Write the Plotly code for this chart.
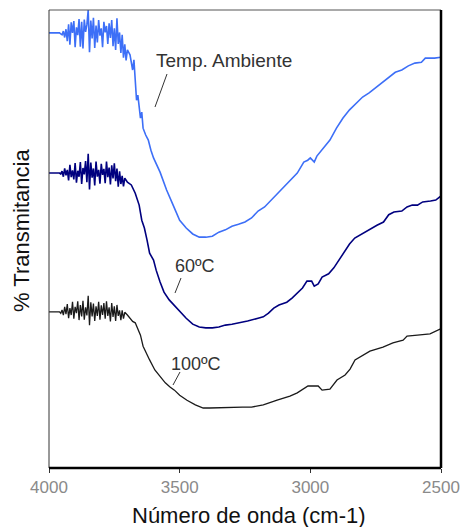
import plotly.graph_objects as go

# ---------------- data (wavenumber cm-1, % transmittance, arbitrary offsets) -------------
noise_wn = [3960, 3955, 3950, 3945, 3940, 3935, 3930, 3925, 3920, 3915, 3910, 3905,
            3900, 3895, 3890, 3885, 3880, 3875, 3870, 3865, 3860, 3855, 3850, 3845,
            3840, 3835, 3830, 3825, 3820, 3815, 3810, 3805, 3800, 3795, 3790, 3785,
            3780, 3775, 3770, 3765, 3760, 3755, 3750, 3745, 3740, 3735, 3730, 3725,
            3720, 3715]

amb_noise = [95.0, 94.8, 94.6, 95.4, 94.0, 95.8, 93.2, 96.9, 92.4, 97.3, 95.0, 97.6,
             91.9, 96.2, 94.5, 98.0, 92.0, 97.4, 91.6, 97.9, 95.2, 96.8, 100.0, 90.8,
             97.7, 93.8, 98.3, 91.7, 96.6, 92.9, 97.8, 94.4, 96.0, 91.9, 97.4, 95.1,
             96.5, 92.6, 97.1, 93.9, 97.8, 92.1, 96.0, 91.3, 98.2, 92.6, 95.1, 90.6,
             94.6, 89.6]
c60_noise = [64.4, 64.2, 64.8, 63.6, 65.4, 63.9, 65.1, 62.8, 66.2, 63.5, 65.0, 63.0,
             66.6, 62.3, 64.9, 63.6, 66.8, 62.0, 65.5, 64.1, 67.0, 62.4, 68.6, 60.8,
             66.7, 63.4, 65.4, 61.7, 66.9, 63.6, 65.1, 62.1, 66.4, 64.0, 65.3, 62.2,
             66.9, 63.5, 65.6, 61.9, 66.1, 63.2, 66.5, 62.6, 65.4, 61.4, 64.8, 62.0,
             63.8, 61.5]
c100_noise = [34.1, 33.8, 34.5, 33.4, 35.2, 33.6, 35.8, 32.7, 34.9, 33.4, 36.3, 32.6,
              35.2, 33.8, 36.4, 32.3, 35.6, 33.1, 36.5, 32.4, 35.1, 33.3, 37.6, 31.2,
              36.2, 33.1, 35.9, 32.1, 35.3, 33.2, 36.3, 32.4, 35.5, 33.4, 36.0, 32.6,
              36.4, 33.2, 35.1, 32.0, 36.0, 33.0, 35.3, 32.1, 35.6, 33.2, 34.4, 32.3,
              34.4, 32.6]

amb_wn = [3710, 3705, 3700, 3690, 3685, 3680, 3675, 3670, 3665, 3660, 3655, 3650,
          3645, 3640, 3630, 3620, 3610, 3600, 3575, 3550, 3525, 3500, 3475, 3450,
          3425, 3400, 3375, 3350, 3325, 3300, 3275, 3250, 3225, 3200, 3175, 3150,
          3125, 3100, 3075, 3050, 3025, 3010, 3000, 2985, 2975, 2950, 2925, 2900,
          2875, 2850, 2825, 2800, 2775, 2750, 2725, 2700, 2675, 2650, 2625, 2600,
          2575, 2560, 2525, 2500]
amb_t = [92.5, 89.0, 91.3, 90.2, 88.0, 86.9, 89.1, 83.6, 80.3, 81.4, 78.2, 76.4,
         77.7, 74.2, 72.7, 71.6, 69.4, 67.7, 64.6, 60.7, 57.4, 54.1, 52.4, 51.1,
         50.4, 50.4, 50.6, 51.5, 52.0, 52.8, 53.2, 53.7, 54.6, 56.1, 57.0, 58.5,
         60.0, 61.6, 62.9, 64.4, 66.8, 67.2, 67.7, 66.8, 68.1, 69.9, 71.6, 74.2,
         76.4, 78.2, 79.7, 81.0, 81.9, 83.0, 84.0, 85.1, 86.4, 86.9, 87.8, 88.4,
         88.6, 89.5, 89.5, 89.7]

c60_wn = [3710, 3700, 3685, 3670, 3655, 3645, 3635, 3625, 3615, 3600, 3590, 3575,
          3560, 3540, 3520, 3500, 3475, 3450, 3425, 3400, 3375, 3350, 3325, 3300,
          3270, 3240, 3200, 3180, 3160, 3140, 3120, 3090, 3070, 3050, 3030, 3013,
          2995, 2985, 2970, 2955, 2930, 2910, 2890, 2870, 2850, 2830, 2810, 2790,
          2770, 2745, 2720, 2700, 2680, 2650, 2630, 2610, 2590, 2570, 2540, 2520,
          2500]
c60_t = [63.3, 62.4, 61.8, 60.0, 57.4, 54.1, 52.4, 49.8, 46.9, 45.4, 43.2, 40.6,
         38.4, 36.7, 35.4, 34.1, 32.7, 31.4, 30.8, 30.6, 30.6, 30.8, 31.2, 31.4,
         31.7, 32.1, 32.7, 33.0, 33.8, 34.9, 35.6, 36.2, 37.1, 38.2, 39.3, 40.8,
         40.8, 39.7, 40.2, 41.7, 42.4, 43.7, 45.4, 47.2, 48.9, 50.2, 50.9, 51.5,
         52.2, 53.0, 53.7, 55.3, 55.9, 56.1, 57.0, 57.4, 57.4, 58.1, 58.3, 58.5,
         59.4]

c100_wn = [3710, 3700, 3680, 3670, 3650, 3640, 3630, 3615, 3595, 3575, 3555, 3537,
           3520, 3500, 3472, 3440, 3410, 3385, 3350, 3300, 3260, 3225, 3180, 3127,
           3078, 3050, 3009, 2970, 2955, 2925, 2898, 2867, 2848, 2829, 2798, 2772,
           2722, 2684, 2645, 2630, 2590, 2542, 2504, 2500]
c100_t = [34.0, 33.4, 32.0, 31.7, 29.0, 26.6, 25.3, 23.6, 21.4, 19.9, 18.6, 17.7,
          17.0, 15.9, 14.8, 13.8, 13.1, 13.1, 13.2, 13.3, 13.3, 13.3, 13.8, 14.8,
          15.7, 16.4, 17.9, 17.9, 17.0, 17.2, 19.2, 20.3, 21.6, 23.6, 24.7, 25.5,
          26.4, 27.3, 27.9, 28.8, 29.0, 29.3, 30.3, 30.3]

start_wn = [4000, 3985, 3970]
amb_start = [95.0, 95.0, 95.0]
c60_start = [64.4, 64.4, 64.4]
c100_start = [34.1, 34.1, 34.1]

x_ticks = [4000, 3500, 3000, 2500]

series = [
    ("Temp. Ambiente", amb_start + amb_noise + amb_t, start_wn + noise_wn + amb_wn, "#3d6ff7", 1.6),
    ("60ºC", c60_start + c60_noise + c60_t, start_wn + noise_wn + c60_wn, "#00007f", 1.6),
    ("100ºC", c100_start + c100_noise + c100_t, start_wn + noise_wn + c100_wn, "#1a1a1a", 1.3),
]

fig = go.Figure()
for name, yv, xv, col, w in series:
    fig.add_trace(go.Scatter(x=xv, y=yv, mode="lines", name=name,
                             line=dict(color=col, width=w), showlegend=False))

L, R, T, B = 49, 22, 10, 59
W, H = 463, 527
pw, ph = W - L - R, H - T - B


def px(x):
    return (x - L) / pw


def py(y):
    return (H - B - y) / ph


fig.update_layout(
    width=W, height=H,
    margin=dict(l=L, r=R, t=T, b=B, pad=0, autoexpand=False),
    paper_bgcolor="white", plot_bgcolor="white",
    font=dict(family="Liberation Sans, Arial, sans-serif", color="#222"),
    xaxis=dict(range=[4000, 2500], tickvals=x_ticks, ticktext=[str(v) for v in x_ticks],
               showgrid=False, zeroline=False, showline=False, automargin=False,
               ticks="outside", ticklen=4, tickcolor="#333", tickwidth=1,
               tickfont=dict(size=17, color="#8a8a8a")),
    yaxis=dict(range=[0, 100], showgrid=False, zeroline=False, showline=False,
               showticklabels=False, ticks="", automargin=False),
)

# frame: thin top/left, heavy right/bottom
fig.add_shape(type="line", xref="paper", yref="paper", x0=0, x1=1, y0=1, y1=1,
              line=dict(color="#555", width=1))
fig.add_shape(type="line", xref="paper", yref="paper", x0=0, x1=0, y0=0, y1=1,
              line=dict(color="#333", width=1))
fig.add_shape(type="line", xref="paper", yref="paper", x0=1, x1=1, y0=0, y1=1,
              line=dict(color="black", width=2.5))
fig.add_shape(type="line", xref="paper", yref="paper", x0=0, x1=1, y0=0, y1=0,
              line=dict(color="black", width=2.5))

# labels with leader lines
labels = [
    ("Temp. Ambiente", 154, 61, 19, (155, 107, 167, 74)),
    ("60ºC", 173, 266, 18, (175, 293, 181, 278)),
    ("100ºC", 169, 364, 18, (173, 385, 180, 372)),
]
for txt, lx, ly, fs, (x0, y0, x1, y1) in labels:
    fig.add_annotation(text=txt, xref="paper", yref="paper", x=px(lx), y=py(ly),
                       xanchor="left", yanchor="middle", showarrow=False,
                       font=dict(size=fs, color="#333"))
    fig.add_shape(type="line", xref="paper", yref="paper",
                  x0=px(x0), y0=py(y0), x1=px(x1), y1=py(y1),
                  line=dict(color="#333", width=1))

fig.add_annotation(text="Número de onda (cm-1)", xref="paper", yref="paper",
                   x=px(249), y=py(515), xanchor="center", yanchor="middle",
                   showarrow=False, font=dict(size=22, color="#111"))
fig.add_annotation(text="% Transmitancia", xref="paper", yref="paper",
                   x=px(22), y=py(231), xanchor="center", yanchor="middle",
                   textangle=-90, showarrow=False, font=dict(size=22, color="#111"))

fig.write_html("out.html")
